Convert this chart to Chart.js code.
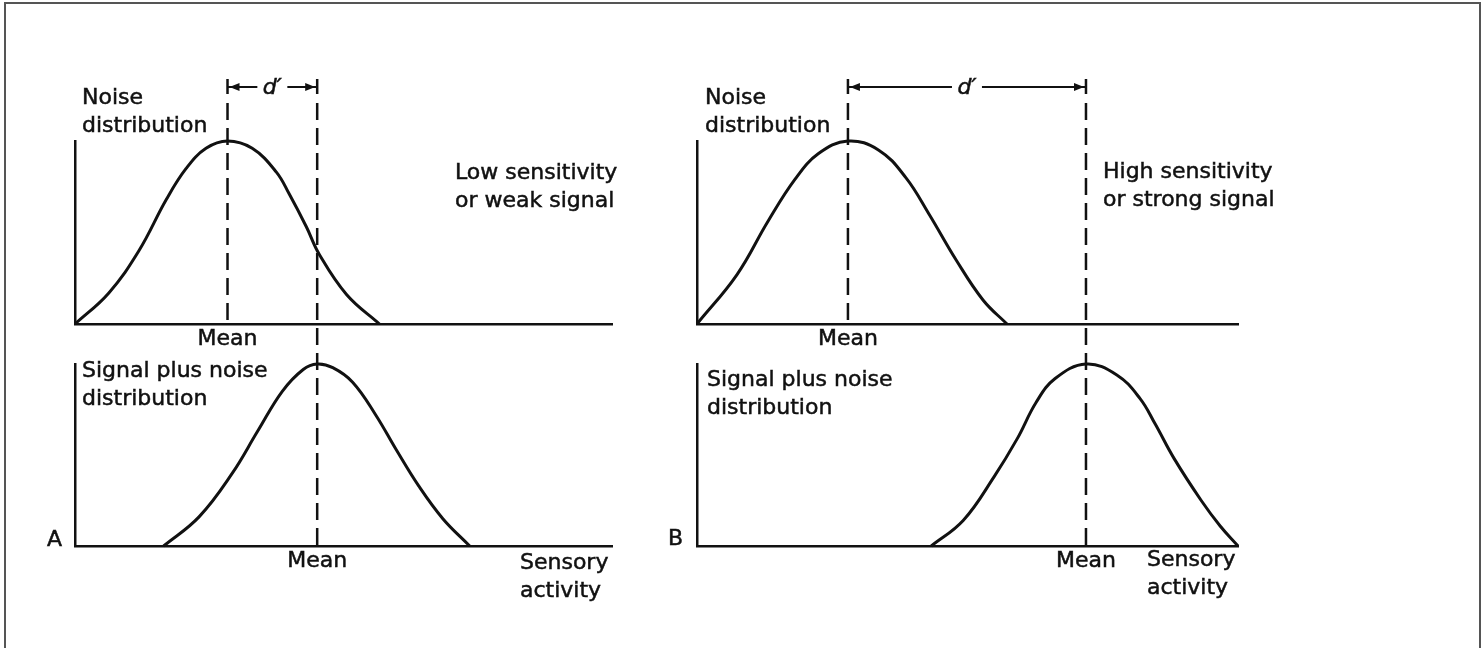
<!DOCTYPE html>
<html>
<head>
<meta charset="utf-8">
<script src="https://cdn.jsdelivr.net/npm/chart.js@4.4.1/dist/chart.umd.min.js"></script>
<style>
body{margin:0;background:#fff;width:1482px;height:648px;overflow:hidden;position:relative;font-family:"DejaVu Sans",sans-serif;}
canvas{position:absolute;top:0;}
#frame{position:absolute;left:4px;top:2px;width:1473px;height:700px;border:2px solid #555;pointer-events:none;}
.lbl{position:absolute;font-size:22px;line-height:28px;color:#111;white-space:nowrap;-webkit-text-stroke:0.5px #111;}
.mid{transform:translateX(-50%);}
.dp{font-style:italic;}
</style>
</head>
<body>
<canvas id="chartA" width="660" height="648" style="left:0"></canvas>
<canvas id="chartB" width="822" height="648" style="left:660px"></canvas>
<div id="frame"></div>

<div class="lbl" style="left:82px;top:83px">Noise<br>distribution</div>
<div class="lbl" style="left:455px;top:158px">Low sensitivity<br>or weak signal</div>
<div class="lbl" style="left:82px;top:356px">Signal plus noise<br>distribution</div>
<div class="lbl" style="left:520px;top:548px">Sensory<br>activity</div>
<div class="lbl" style="left:47px;top:525px">A</div>

<div class="lbl" style="left:705px;top:83px">Noise<br>distribution</div>
<div class="lbl" style="left:1103px;top:157px">High sensitivity<br>or strong signal</div>
<div class="lbl" style="left:707px;top:365px">Signal plus noise<br>distribution</div>
<div class="lbl" style="left:1147px;top:545px">Sensory<br>activity</div>
<div class="lbl" style="left:668px;top:524px">B</div>

<script>
// sensory activity (x) vs relative frequency (y, peak = 100)
const noiseAx = [0, 0.63, 1.19, 1.70, 2.07, 2.44, 2.84, 3.30, 3.75, 3.99, 4.31, 4.55, 5.06, 5.67];
const noiseAy = [0, 17, 40, 68, 85, 96, 100, 96, 83, 71, 53, 38, 16, 0];
const signalAx = [1.65, 2.31, 2.93, 3.40, 3.86, 4.25, 4.51, 4.80, 5.17, 5.60, 5.98, 6.40, 6.85, 7.35];
const signalAy = [0, 16, 40, 63, 85, 97, 100, 98, 90, 72, 53, 33, 15, 0];

const noiseBx = [0, 0.74, 1.31, 1.81, 2.24, 2.79, 3.36, 3.86, 4.29, 4.79, 5.29, 5.73];
const noiseBy = [0, 27, 56, 79, 93, 100, 95, 80, 60, 35, 13, 0];
const signalBx = [4.33, 4.92, 5.49, 5.92, 6.27, 6.62, 7.19, 7.76, 8.19, 8.47, 8.82, 9.32, 9.67, 10.0];
const signalBy = [0, 14, 38, 59, 79, 92, 100, 94, 81, 67, 48, 25, 11, 0];

const meansA = [2.84, 4.51];
const meansB = [2.79, 7.19];
const xMin = 0, xMax = 10;
const yMax = 100;

function pts(xs, ys) {
  return xs.map((x, i) => ({x: x, y: ys[i]}));
}

function arrowHead(ctx, tipX, y, dir) {
  ctx.beginPath();
  ctx.moveTo(tipX, y);
  ctx.lineTo(tipX - dir * 10, y - 4);
  ctx.lineTo(tipX - dir * 10, y + 4);
  ctx.closePath();
  ctx.fill();
}

// dashed mean lines + d' bracket
const meanLines = {
  id: 'meanLines',
  afterDatasetsDraw(chart, args, opts) {
    const ctx = chart.ctx;
    const xs = chart.scales.x;
    const x1 = xs.getPixelForValue(opts.means[0]);
    const x2 = xs.getPixelForValue(opts.means[1]);
    const by = chart.chartArea.top - 54;
    ctx.save();
    ctx.strokeStyle = '#111';
    ctx.fillStyle = '#111';
    ctx.lineWidth = 2.5;
    [x1, x2].forEach(px => {
      ctx.beginPath();
      ctx.moveTo(px, by - 8);
      ctx.lineTo(px, by + 7);
      ctx.stroke();
    });
    ctx.setLineDash([17, 8]);
    ctx.beginPath();
    ctx.moveTo(x1, by + 16);
    ctx.lineTo(x1, chart.scales.yTop.getPixelForValue(0));
    ctx.stroke();
    ctx.beginPath();
    ctx.moveTo(x2, by + 16);
    ctx.lineTo(x2, chart.scales.yBot.getPixelForValue(0));
    ctx.stroke();
    ctx.setLineDash([]);
    const mid = (x1 + x2) / 2;
    ctx.lineWidth = 2;
    ctx.beginPath();
    ctx.moveTo(x1, by);
    ctx.lineTo(mid - 15, by);
    ctx.moveTo(mid + 15, by);
    ctx.lineTo(x2, by);
    ctx.stroke();
    arrowHead(ctx, x1 + 2, by, -1);
    arrowHead(ctx, x2 - 2, by, 1);
    ctx.restore();
  }
};

function axisStyle() {
  return {
    border: {display: true, color: '#111', width: 2.5},
    grid: {display: false, drawTicks: false},
    ticks: {display: false}
  };
}

function makePanel(id, noise, signal, means, pad) {
  return new Chart(document.getElementById(id), {
    type: 'line',
    data: {
      datasets: [
        {data: noise, xAxisID: 'x', yAxisID: 'yTop'},
        {data: signal, xAxisID: 'x', yAxisID: 'yBot'}
      ]
    },
    options: {
      responsive: false,
      animation: false,
      devicePixelRatio: 1,
      layout: {padding: pad},
      elements: {
        line: {borderColor: '#111', borderWidth: 3, tension: 0.4, fill: false, capBezierPoints: false},
        point: {radius: 0}
      },
      clip: false,
      plugins: {legend: {display: false}, tooltip: {enabled: false}, meanLines: {means: means}},
      scales: {
        x: Object.assign({type: 'linear', min: xMin, max: xMax}, axisStyle()),
        xTop: Object.assign({type: 'linear', axis: 'x', position: {yTop: 0}, min: xMin, max: xMax}, axisStyle()),
        yBot: Object.assign({type: 'linear', position: 'left', stack: 'p', stackWeight: 182, min: 0, max: yMax}, axisStyle()),
        gap: {type: 'linear', position: 'left', stack: 'p', stackWeight: 40, min: 0, max: 1,
          border: {display: false}, grid: {display: false, drawTicks: false}, ticks: {display: false}},
        yTop: Object.assign({type: 'linear', position: 'left', stack: 'p', stackWeight: 183, min: 0, max: yMax}, axisStyle())
      }
    },
    plugins: [meanLines]
  });
}

const chartA = makePanel('chartA', pts(noiseAx, noiseAy), pts(signalAx, signalAy), meansA,
  {left: 75, top: 141, right: 48, bottom: 102});
const chartB = makePanel('chartB', pts(noiseBx, noiseBy), pts(signalBx, signalBy), meansB,
  {left: 37, top: 141, right: 244, bottom: 102});

function addLabel(text, left, top, cls) {
  const d = document.createElement('div');
  d.className = 'lbl ' + cls;
  d.textContent = text;
  d.style.left = left + 'px';
  d.style.top = top + 'px';
  document.body.appendChild(d);
}

[[chartA, meansA, 0], [chartB, meansB, 660]].forEach(([chart, means, off]) => {
  const x1 = chart.scales.x.getPixelForValue(means[0]) + off;
  const x2 = chart.scales.x.getPixelForValue(means[1]) + off;
  addLabel('Mean', x1, 324, 'mid');
  addLabel('Mean', x2, 546, 'mid');
  addLabel('d\u2032', (x1 + x2) / 2, 73, 'mid dp');
});
</script>
</body>
</html>
